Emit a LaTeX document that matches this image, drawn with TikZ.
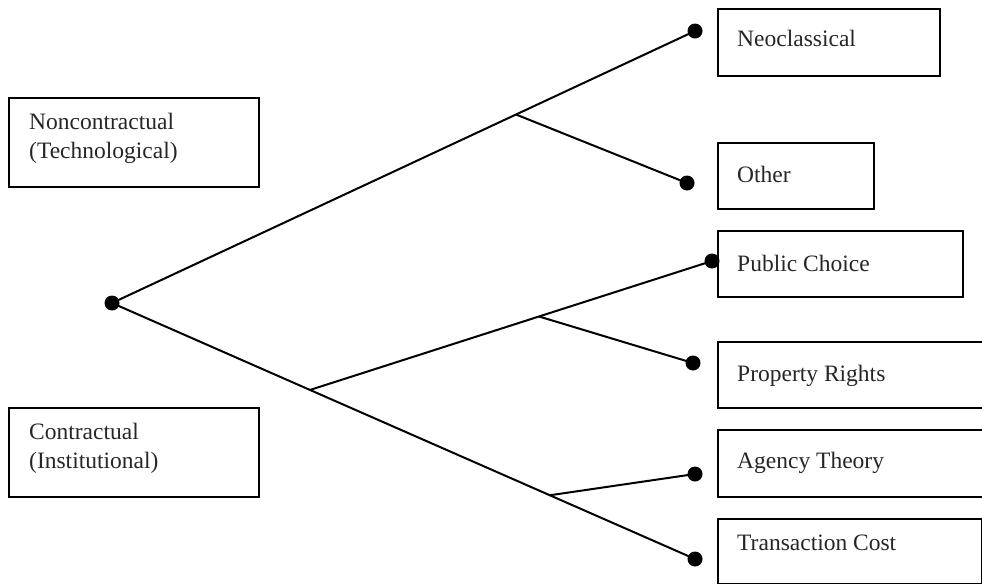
\documentclass[tikz,border=0pt]{standalone}
\usepackage{fontspec}
\setmainfont{Liberation Serif}
\usetikzlibrary{calc}
\begin{document}
\begin{tikzpicture}[x=1pt,y=-1pt,
  box/.style={draw, line width=1.8pt, rectangle, inner sep=0pt, anchor=north west},
  lbl/.style={inner sep=0pt, anchor=base west, font=\fontsize{23.5}{28.5}\selectfont, text=black!85},
  dot/.style={circle, fill=black, inner sep=0pt, minimum size=15pt},
  conn/.style={line width=2pt}]
\useasboundingbox (0,0) rectangle (982,584);
\clip (0,0) rectangle (982,584);
% boxes
\node[box, minimum width=250pt, minimum height=89pt] (bNon) at (8,97) {};
\node[box, minimum width=250pt, minimum height=89pt] (bCon) at (8,407) {};
\node[box, minimum width=222pt, minimum height=67pt] (bNeo) at (717,8) {};
\node[box, minimum width=156pt, minimum height=66pt] (bOth) at (717,142) {};
\node[box, minimum width=245pt, minimum height=66pt] (bPub) at (717,230) {};
\node[box, minimum width=285pt, minimum height=66pt] (bPro) at (717,341) {};
\node[box, minimum width=285pt, minimum height=67pt] (bAge) at (717,429) {};
\node[box, minimum width=263.5pt, minimum height=64.5pt] (bTra) at (717,518) {};
% texts
\node[lbl] (tNon1) at (29,129) {Noncontractual};
\node[lbl] (tNon2) at (29,158) {(Technological)};
\node[lbl] (tCon1) at (29,439) {Contractual};
\node[lbl] (tCon2) at (29,468) {(Institutional)};
\node[lbl] (tNeo) at (737,46) {Neoclassical};
\node[lbl] (tOth) at (737,182) {Other};
\node[lbl] (tPub) at (737,271) {Public Choice};
\node[lbl] (tPro) at (737,381) {Property Rights};
\node[lbl] (tAge) at (737,468) {Agency Theory};
\node[lbl] (tTra) at (737,550) {Transaction Cost};
% tree points
\coordinate (root) at (112,303);
\coordinate (pNeo) at (695,31);
\coordinate (pOth) at (687,183);
\coordinate (pPub) at (712,261);
\coordinate (pPro) at (693,363);
\coordinate (pAge) at (695,474);
\coordinate (pTra) at (695,559);
\coordinate (j1) at ($(root)!0.693!(pNeo)$);
\coordinate (j2) at ($(root)!0.3396!(pTra)$);
\coordinate (j3) at ($(j2)!0.5697!(pPub)$);
\coordinate (j4) at ($(root)!0.751!(pTra)$);
% connectors
\draw[conn] (root) -- (pNeo);
\draw[conn] (j1) -- (pOth);
\draw[conn] (root) -- (pTra);
\draw[conn] (j2) -- (pPub);
\draw[conn] (j3) -- (pPro);
\draw[conn] (j4) -- (pAge);
% dots
\node[dot] (dRoot) at (root) {};
\node[dot] (dNeo) at (pNeo) {};
\node[dot] (dOth) at (pOth) {};
\node[dot] (dPub) at (pPub) {};
\node[dot] (dPro) at (pPro) {};
\node[dot] (dAge) at (pAge) {};
\node[dot] (dTra) at (pTra) {};
\end{tikzpicture}
\end{document}
